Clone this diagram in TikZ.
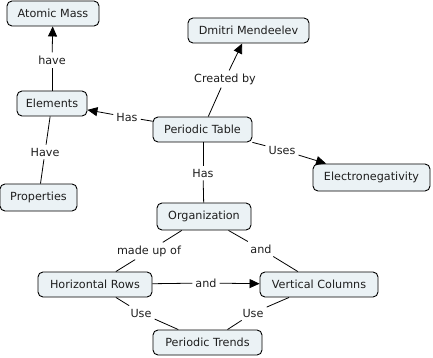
\documentclass[tikz,border=0pt]{standalone}
\usepackage{fontspec}
\setmainfont{DejaVu Sans}
\usetikzlibrary{arrows.meta}
\definecolor{boxfill}{RGB}{235,242,245}
\definecolor{txt}{RGB}{30,30,30}
\tikzset{
  concept/.style={draw=black, line width=0.9pt, fill=boxfill, rounded corners=5pt,
    minimum height=25pt, inner xsep=0pt, inner ysep=0pt, text=txt,
    font=\fontsize{11.2}{13}\selectfont},
  lbl/.style={inner xsep=3pt, inner ysep=3pt, text=txt, font=\fontsize{11.2}{13}\selectfont},
  link/.style={line width=0.8pt, draw=black},
  arr/.style={link, -{Triangle[length=10pt,width=9pt]}}
}
\begin{document}
\begin{tikzpicture}[x=1pt,y=-1pt]
\useasboundingbox (0,0) rectangle (433,358);
\fill[white] (0,0) rectangle (433,358);
% concepts
\node[concept, minimum width=92pt] (am) at (53,13.5) {Atomic Mass};
\node[concept, minimum width=121pt] (dm) at (248.5,30.5) {Dmitri Mendeelev};
\node[concept, minimum width=70pt] (el) at (52,103.5) {Elements};
\node[concept, minimum width=99pt] (pt) at (202.5,129.5) {Periodic Table};
\node[concept, minimum width=117pt, minimum height=27pt] (en) at (371.5,177.5) {Electronegativity};
\node[concept, minimum width=77pt, minimum height=27pt] (pr) at (38.5,197.5) {Properties};
\node[concept, minimum width=94pt, minimum height=27pt] (or) at (204,216.5) {Organization};
\node[concept, minimum width=114pt] (hr) at (95,284.5) {Horizontal Rows};
\node[concept, minimum width=118pt] (vc) at (319,284.5) {Vertical Columns};
\node[concept, minimum width=109pt] (tr) at (207.5,342.5) {Periodic Trends};
% labels
\node[lbl] (l1) at (52,60) {have};
\node[lbl] (l2) at (127,117) {Has};
\node[lbl] (l3) at (45,152) {Have};
\node[lbl] (l4) at (225,79) {Created by};
\node[lbl] (l5) at (282,150) {Uses};
\node[lbl] (l6) at (203,173) {Has};
\node[lbl] (l7) at (149,251) {made up of};
\node[lbl] (l8) at (261,249) {and};
\node[lbl] (l9) at (206,283) {and};
\node[lbl] (l10) at (141,313) {Use};
\node[lbl] (l11) at (253,313) {Use};
% connectors
\draw[link] (el) -- (l1); \draw[arr] (l1) -- (am);
\draw[link] (pt) -- (l2); \draw[arr] (l2) -- (el);
\draw[link] (el) -- (l3); \draw[link] (l3) -- (pr);
\draw[link] (pt) -- (l4); \draw[arr] (l4) -- (dm);
\draw[link] (pt) -- (l5); \draw[arr] (l5) -- (en);
\draw[link] (pt.south -| l6) -- (l6); \draw[link] (l6) -- (or);
\draw[link] (or) -- (l7); \draw[link] (l7) -- (hr);
\draw[link] (or) -- (l8); \draw[link] (l8) -- (vc);
\draw[link] (hr) -- (l9); \draw[arr] (l9) -- (vc);
\draw[link] (hr) -- (l10); \draw[link] (l10) -- (tr);
\draw[link] (vc) -- (l11); \draw[link] (l11) -- (tr);
\end{tikzpicture}
\end{document}
